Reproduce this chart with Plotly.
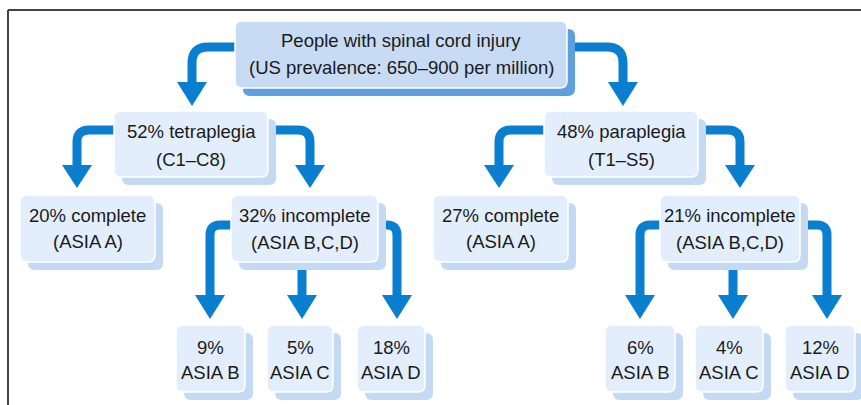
import plotly.graph_objects as go

# labels and shares (percent) of people with spinal cord injury
root_lines = ["People with spinal cord injury", "(US prevalence: 650–900 per million)"]
level_names = ["tetraplegia", "paraplegia"]
level_ranges = ["(C1–C8)", "(T1–S5)"]
level_pct = [52, 48]
complete_pct = [20, 27]
incomplete_pct = [32, 21]
asia_grades = ["ASIA B", "ASIA C", "ASIA D"]
asia_pct = [[9, 5, 18], [6, 4, 12]]

# styling
ARROW = "#0a7fcf"
FILL = "#e3eefc"
SHADOW = "#c4d9f4"
ROOT_FILL = "#c8dbf5"
ROOT_SHADOW = "#5f9fdf"
TEXT = "#1a1a1a"
FONT = "Liberation Sans, Arial, sans-serif"
W, H = 861, 405


def rrect(x0, y0, x1, y1, r=7):
    return (f"M {x0+r},{y0} L {x1-r},{y0} Q {x1},{y0} {x1},{y0+r} "
            f"L {x1},{y1-r} Q {x1},{y1} {x1-r},{y1} L {x0+r},{y1} "
            f"Q {x0},{y1} {x0},{y1-r} L {x0},{y0+r} Q {x0},{y0} {x0+r},{y0} Z")


shapes = []
annotations = []


def arrow_head(x, tip, hw=15, hh=24):
    shapes.append(dict(type="path", path=f"M {x-hw},{tip-hh} L {x+hw},{tip-hh} L {x},{tip} Z",
                       fillcolor=ARROW, line=dict(width=0)))


def elbow(x0, y0, xs, tip, r=12, w=9, hh=24):
    d = 1 if xs > x0 else -1
    path = f"M {x0},{y0} L {xs-d*r},{y0} Q {xs},{y0} {xs},{y0+r} L {xs},{tip-hh+2}"
    shapes.append(dict(type="path", path=path, line=dict(color=ARROW, width=w)))
    arrow_head(xs, tip, hh=hh)


def straight(x, y0, tip, w=9, hh=24):
    shapes.append(dict(type="line", x0=x, x1=x, y0=y0, y1=tip-hh+2, line=dict(color=ARROW, width=w)))
    arrow_head(x, tip, hh=hh)


def box(x0, y0, x1, y1, lines, ys, fill=FILL, shadow=SHADOW, off=8):
    shapes.append(dict(type="path", path=rrect(x0+off, y0+off, x1+off, y1+off),
                       fillcolor=shadow, line=dict(width=0)))
    shapes.append(dict(type="path", path=rrect(x0, y0, x1, y1),
                       fillcolor=fill, line=dict(color="white", width=1.5)))
    cx = (x0 + x1) / 2
    for t, y in zip(lines, ys):
        annotations.append(dict(x=cx, y=y, text=t, showarrow=False, xanchor="center", yanchor="middle",
                                font=dict(family=FONT, size=18.5, color=TEXT)))


# arrows (drawn first so boxes sit on top)
elbow(237, 47, 192, 106, r=16)
elbow(572, 47, 623, 106, r=16)
elbow(116, 130, 77, 188, hh=23)
elbow(273, 130, 310, 188, hh=23)
elbow(546, 130, 499, 188, hh=23)
elbow(703, 130, 740, 188, hh=23)
for xl, xm, xr, bx0, bx1 in [(210, 302, 397, 231, 385), (640, 733, 827, 660, 807)]:
    elbow(bx0 + 2, 225, xl, 319, r=10)
    straight(xm, 268, 319)
    elbow(bx1, 225, xr, 319, r=10)

# boxes
box(235, 21, 567, 88, root_lines, [40, 67], fill=ROOT_FILL, shadow=ROOT_SHADOW)
level_boxes = [(114, 268), (544, 698)]
comp_boxes = [(20, 155), (433, 568)]
incomp_boxes = [(231, 378), (660, 800)]
asia_boxes = [[(176, 245), (267, 333), (357, 425)], [(605, 675), (695, 763), (785, 855)]]
for i in range(2):
    x0, x1 = level_boxes[i]
    box(x0, 111, x1, 177, [f"{level_pct[i]}% {level_names[i]}", level_ranges[i]], [131, 159])
    x0, x1 = comp_boxes[i]
    box(x0, 195, x1, 262, [f"{complete_pct[i]}% complete", "(ASIA A)"], [215, 241])
    x0, x1 = incomp_boxes[i]
    box(x0, 195, x1, 262, [f"{incomplete_pct[i]}% incomplete", "(ASIA B,C,D)"], [215, 242])
    for (x0, x1), g, p in zip(asia_boxes[i], asia_grades, asia_pct[i]):
        box(x0, 325, x1, 392, [f"{p}%", g], [347, 372])

# frame: top and left rules
shapes.append(dict(type="line", x0=8, x1=W, y0=10, y1=10, line=dict(color="#444444", width=2)))
shapes.append(dict(type="line", x0=8, x1=8, y0=10, y1=H, line=dict(color="#444444", width=2)))

fig = go.Figure()
fig.update_layout(
    width=W, height=H, autosize=False,
    margin=dict(l=0, r=0, t=0, b=0),
    paper_bgcolor="white", plot_bgcolor="white",
    xaxis=dict(range=[0, W], visible=False, fixedrange=True),
    yaxis=dict(range=[H, 0], visible=False, fixedrange=True),
    shapes=shapes, annotations=annotations, showlegend=False,
)

fig.write_html("out.html", config={"displayModeBar": False},
               post_script="document.body.style.margin='0';")
